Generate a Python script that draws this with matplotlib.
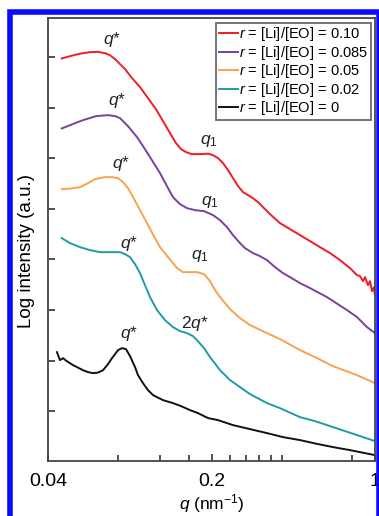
"""SAXS profiles of PEO/Li blends, stacked on a log intensity axis."""

import matplotlib
matplotlib.use("Agg")
import matplotlib.pyplot as plt
from matplotlib.patches import Rectangle
from matplotlib.ticker import FixedLocator, NullFormatter

plt.rcParams.update({
    "font.family": ["Liberation Sans", "DejaVu Sans"],
    "mathtext.fontset": "custom",
    "mathtext.rm": "Liberation Sans",
    "mathtext.it": "Liberation Sans:italic",
    "mathtext.bf": "Liberation Sans:bold",
})

# scattering vector q (nm^-1) and log intensity (a.u., stacked) per salt ratio
q_010 = [0.0458, 0.0497, 0.0548, 0.0605, 0.0654, 0.0701, 0.0736, 0.0774, 0.0813,
         0.0854, 0.0915, 0.0990, 0.1070, 0.1158, 0.1241, 0.1330, 0.1411, 0.1482,
         0.1557, 0.1651, 0.1787, 0.1933, 0.2030, 0.2133, 0.2240, 0.2354, 0.2472,
         0.2597, 0.2729, 0.2866, 0.3008, 0.3162, 0.3321, 0.3558, 0.3926, 0.4332,
         0.4780, 0.5276, 0.5820, 0.6424, 0.7089, 0.7820, 0.8380, 0.8629, 0.8887,
         0.9063, 0.9334, 0.9519, 0.9708, 0.9903, 1.0]
i_010 = [6.970, 7.016, 7.065, 7.095, 7.101, 7.075, 7.036, 6.957, 6.858,
         6.759, 6.581, 6.403, 6.186, 5.968, 5.731, 5.494, 5.296, 5.178,
         5.119, 5.079, 5.079, 5.089, 5.059, 5.000, 4.901, 4.763, 4.605,
         4.447, 4.328, 4.269, 4.209, 4.130, 4.032, 3.893, 3.715, 3.597,
         3.478, 3.360, 3.241, 3.123, 2.984, 2.826, 2.688, 2.668, 2.569,
         2.648, 2.490, 2.569, 2.372, 2.451, 2.273]

q_0085 = [0.0458, 0.0497, 0.0564, 0.0642, 0.0722, 0.0774, 0.0813, 0.0879, 0.0961,
          0.1039, 0.1092, 0.1147, 0.1205, 0.1304, 0.1369, 0.1467, 0.1571, 0.1701,
          0.1858, 0.2030, 0.2175, 0.2330, 0.2472, 0.2649, 0.2783, 0.3008, 0.3225,
          0.3454, 0.3737, 0.4044, 0.4332, 0.4780, 0.5276, 0.6236, 0.7593, 0.8380,
          0.9243, 1.0]
i_0085 = [5.587, 5.652, 5.751, 5.830, 5.850, 5.830, 5.791, 5.632, 5.415,
          5.178, 5.020, 4.862, 4.704, 4.407, 4.229, 4.091, 4.012, 3.972,
          3.953, 3.874, 3.775, 3.636, 3.478, 3.320, 3.221, 3.123, 3.063,
          2.984, 2.846, 2.727, 2.648, 2.530, 2.431, 2.253, 1.996, 1.858,
          1.660, 1.542]

q_005 = [0.0458, 0.0497, 0.0548, 0.0593, 0.0635, 0.0701, 0.0751, 0.0797, 0.0837,
         0.0879, 0.0924, 0.0990, 0.1060, 0.1147, 0.1205, 0.1304, 0.1369, 0.1425,
         0.1511, 0.1618, 0.1734, 0.1858, 0.1971, 0.2071, 0.2175, 0.2401, 0.2649,
         0.2923, 0.3454, 0.3926, 0.4780, 0.5541, 0.6615, 0.8380, 1.0]
i_005 = [4.387, 4.397, 4.427, 4.506, 4.585, 4.625, 4.625, 4.605, 4.526,
         4.407, 4.229, 3.972, 3.715, 3.419, 3.241, 3.043, 2.925, 2.826,
         2.747, 2.747, 2.747, 2.708, 2.569, 2.391, 2.253, 2.016, 1.838,
         1.700, 1.542, 1.423, 1.206, 1.067, 0.889, 0.711, 0.553]

q_002 = [0.0458, 0.0497, 0.0548, 0.0605, 0.0668, 0.0736, 0.0813, 0.0854, 0.0897,
         0.0942, 0.0990, 0.1039, 0.1092, 0.1170, 0.1266, 0.1369, 0.1467, 0.1571,
         0.1667, 0.1734, 0.1858, 0.1971, 0.2175, 0.2401, 0.2649, 0.2923, 0.3454,
         0.3926, 0.4780, 0.5541, 0.6615, 0.8380, 1.0]
i_002 = [3.419, 3.320, 3.241, 3.182, 3.142, 3.142, 3.142, 3.103, 3.043,
         2.905, 2.727, 2.490, 2.253, 1.996, 1.798, 1.660, 1.581, 1.542,
         1.482, 1.403, 1.245, 1.067, 0.810, 0.613, 0.474, 0.336, 0.158,
         0.059, -0.119, -0.198, -0.316, -0.474, -0.593]

q_0 = [0.0437, 0.0450, 0.0464, 0.0481, 0.0512, 0.0564, 0.0593, 0.0623, 0.0654,
       0.0688, 0.0722, 0.0751, 0.0774, 0.0797, 0.0829, 0.0862, 0.0897, 0.0942,
       0.0970, 0.1019, 0.1070, 0.1125, 0.1241, 0.1369, 0.1482, 0.1618, 0.1751,
       0.1933, 0.2133, 0.2472, 0.2923, 0.3454, 0.4044, 0.4780, 0.5709, 0.6615,
       0.7820, 1.0]
i_0 = [1.166, 1.008, 1.047, 0.988, 0.909, 0.810, 0.771, 0.751, 0.761,
       0.810, 0.929, 1.047, 1.126, 1.206, 1.245, 1.225, 1.087, 0.870,
       0.711, 0.553, 0.415, 0.316, 0.217, 0.158, 0.099, 0.020, -0.040,
       -0.138, -0.178, -0.277, -0.356, -0.435, -0.514, -0.573, -0.652, -0.711,
       -0.771, -0.870]

ratios = ["0.10", "0.085", "0.05", "0.02", "0"]
colors = ["#f01c24", "#7b3f9e", "#f8a24c", "#1f9ba6", "#111111"]

x_major = [0.04, 0.2, 1]
x_major_labels = ["0.04", "0.2", "1"]
x_minor = [0.08, 0.12, 0.16, 0.24, 0.28, 0.32, 0.36, 0.4, 0.8]
y_ticks = [0, 1, 2, 3, 4, 5, 6, 7]

# peak labels: (text, q, log intensity)
peak_labels = [
    ("$q$*", 0.0751, 7.35),
    ("$q$*", 0.0789, 6.13),
    ("$q$*", 0.0820, 4.90),
    ("$q$*", 0.0888, 3.32),
    ("$q$*", 0.0888, 1.54),
    ("$q_1$", 0.195, 5.34),
    ("$q_1$", 0.197, 4.13),
    ("$q_1$", 0.179, 3.06),
    ("$2q$*", 0.170, 1.74),
]

fig = plt.figure(figsize=(3.79, 5.16), dpi=100)
ax = fig.add_axes([48 / 379, 1 - 460.7 / 516, 327 / 379, 442.7 / 516])

series = [(q_010, i_010), (q_0085, i_0085), (q_005, i_005), (q_002, i_002), (q_0, i_0)]
for (qs, ii), r, c in zip(series, ratios, colors):
    ax.plot(qs, ii, color=c, lw=1.4, label=f"$r$ = [Li]/[EO] = {r}",
            solid_joinstyle="round")

for txt, qx, yy in peak_labels:
    ax.text(qx, yy, txt, fontsize=12.5, ha="center", va="center", color="#222222")

ax.set_xscale("log")
ax.set_xlim(0.04, 1)
ax.set_ylim(-0.98, 7.77)
ax.xaxis.set_major_locator(FixedLocator(x_major))
ax.set_xticklabels(x_major_labels)
ax.xaxis.set_minor_locator(FixedLocator(x_minor))
ax.xaxis.set_minor_formatter(NullFormatter())
ax.set_yticks(y_ticks)
ax.set_yticklabels([])
ax.tick_params(which="both", direction="in", length=5, width=1.2, color="#333333",
               labelsize=14, pad=9)
ax.tick_params(axis="x", which="minor", length=4)
for sp in ax.spines.values():
    sp.set_color("#444444")
    sp.set_linewidth(1.3)

ax.set_xlabel("$q$ (nm$^{-1}$)", fontsize=12.5)
ax.xaxis.set_label_coords(0.5, -0.071)
ax.set_ylabel("Log intensity (a.u.)", fontsize=13.5)
ax.yaxis.set_label_coords(-0.040, 0.474)

leg = ax.legend(loc="upper right", bbox_to_anchor=(0.988, 0.989), borderaxespad=0,
                fontsize=10.5, handlelength=1.3, handletextpad=0.1, labelspacing=0.03,
                borderpad=0.18, frameon=True, fancybox=False)
leg.get_frame().set_edgecolor("#444444")
leg.get_frame().set_linewidth(1.3)

# blue frame around the figure
fig.patches.append(Rectangle((9.5 / 379, -0.05), (379 - 9.5) / 379, 1.05 - 12 / 516,
                             transform=fig.transFigure, fill=False,
                             edgecolor="#0a0aff", linewidth=4, zorder=10))

fig.savefig("out.png", dpi=100)
